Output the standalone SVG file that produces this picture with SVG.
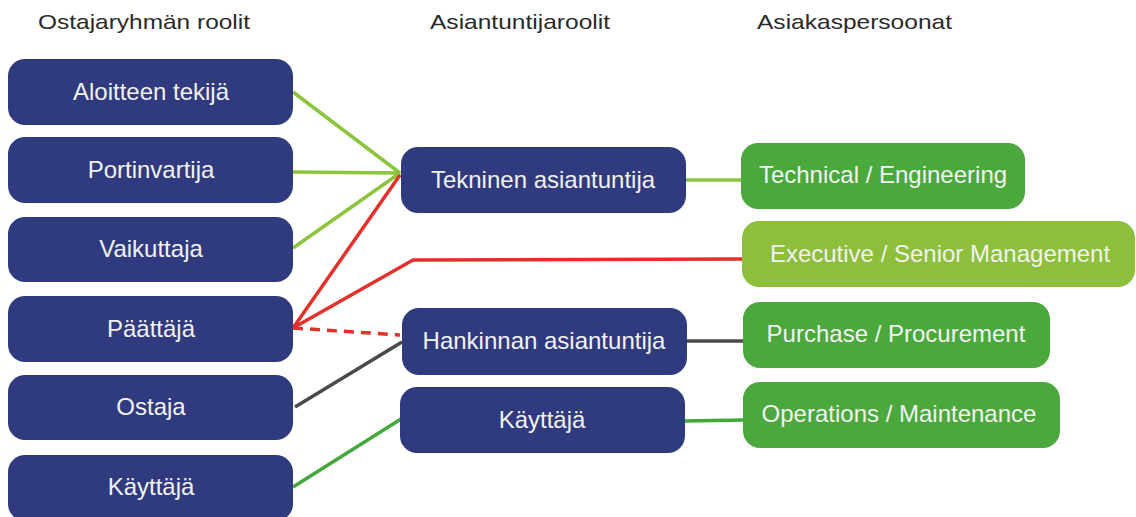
<svg xmlns="http://www.w3.org/2000/svg" width="1136" height="517" viewBox="0 0 1136 517">
<style>
.hdr{font-family:"Liberation Sans",Arial,sans-serif;font-size:21px;fill:#2a2a2a}
.nav{fill:#2f3b7e}
.grn{fill:#4ba83c}
.lgr{fill:#8dbf3a}
.t{font-family:"Liberation Sans",Arial,sans-serif;font-size:24px;fill:#f2f2f2;text-anchor:middle}
.c{fill:none;stroke-width:3.5;stroke-linejoin:round}
.cl{stroke:#8cc43c}
.cr{stroke:#e4302a}
.cg{stroke:#4a4a4a}
.cd{stroke:#44a83a}
</style>
<rect width="1136" height="517" fill="#fff"/>
<g id="headers">
<text class="hdr" x="38" y="29" textLength="212" lengthAdjust="spacingAndGlyphs">Ostajaryhmän roolit</text>
<text class="hdr" x="430" y="29" textLength="180" lengthAdjust="spacingAndGlyphs">Asiantuntijaroolit</text>
<text class="hdr" x="757" y="29" textLength="195" lengthAdjust="spacingAndGlyphs">Asiakaspersoonat</text>
</g>
<g id="connectors">
<path class="c cl" d="M293 92 L400 173"/>
<path class="c cl" d="M293 172 L400 173"/>
<path class="c cl" d="M293 248 L400 173"/>
<path class="c cl" d="M685 180 L742 180"/>
<path class="c cr" d="M293 328 L400 175"/>
<path class="c cr" d="M293 328 L413 260 L743 259"/>
<path class="c cr" d="M293 328 L400 335" stroke-dasharray="10 7"/>
<path class="c cg" d="M295 407 L402 342"/>
<path class="c cg" d="M687 341 L744 341"/>
<path class="c cd" d="M293 487 L401 419"/>
<path class="c cd" d="M684 421 L744 420"/>
</g>
<g id="n-aloitteen"><rect class="nav" x="8" y="59" width="285" height="66" rx="17"/><text class="t" x="151" y="100">Aloitteen tekijä</text></g>
<g id="n-portinvartija"><rect class="nav" x="8" y="137" width="285" height="66" rx="17"/><text class="t" x="151" y="178">Portinvartija</text></g>
<g id="n-vaikuttaja"><rect class="nav" x="8" y="217" width="285" height="65" rx="17"/><text class="t" x="151" y="257">Vaikuttaja</text></g>
<g id="n-paattaja"><rect class="nav" x="8" y="296" width="285" height="66" rx="17"/><text class="t" x="151" y="337">Päättäjä</text></g>
<g id="n-ostaja"><rect class="nav" x="8" y="375" width="285" height="65" rx="17"/><text class="t" x="151" y="415">Ostaja</text></g>
<g id="n-kayttaja1"><rect class="nav" x="8" y="455" width="285" height="66" rx="17"/><text class="t" x="151" y="495">Käyttäjä</text></g>
<g id="n-tekninen"><rect class="nav" x="401" y="147" width="285" height="66" rx="17"/><text class="t" x="543" y="188">Tekninen asiantuntija</text></g>
<g id="n-hankinnan"><rect class="nav" x="402" y="308" width="285" height="67" rx="17"/><text class="t" x="544" y="349">Hankinnan asiantuntija</text></g>
<g id="n-kayttaja2"><rect class="nav" x="400" y="387" width="285" height="66" rx="17"/><text class="t" x="542" y="428">Käyttäjä</text></g>
<g id="n-technical"><rect class="grn" x="741" y="143" width="284" height="66" rx="17"/><text class="t" x="883" y="183">Technical / Engineering</text></g>
<g id="n-executive"><rect class="lgr" x="742" y="221" width="393" height="66" rx="17"/><text class="t" x="940" y="262">Executive / Senior Management</text></g>
<g id="n-purchase"><rect class="grn" x="743" y="302" width="307" height="66" rx="17"/><text class="t" x="896" y="342">Purchase / Procurement</text></g>
<g id="n-operations"><rect class="grn" x="743" y="382" width="317" height="66" rx="17"/><text class="t" x="899" y="422">Operations / Maintenance</text></g>
</svg>
